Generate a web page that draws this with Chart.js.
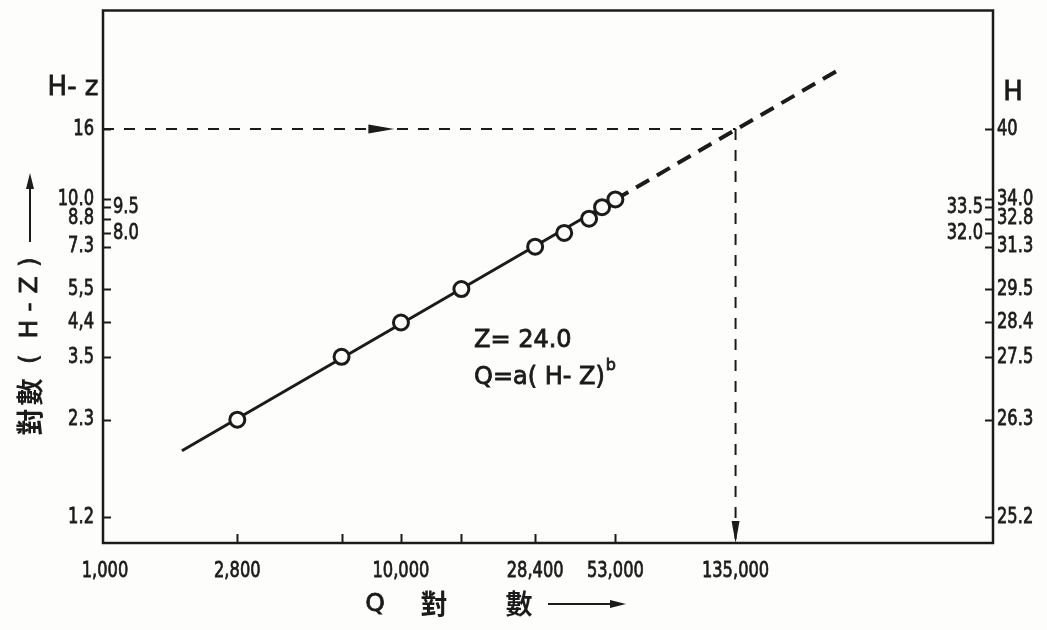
<!DOCTYPE html>
<html>
<head>
<meta charset="utf-8">
<script src="https://cdn.jsdelivr.net/npm/chart.js@4.4.1/dist/chart.umd.min.js"></script>
<style>
  html, body { margin: 0; padding: 0; background: #fdfdfc; }
  #wrap { width: 1047px; height: 630px; position: relative; }
</style>
</head>
<body>
<div id="wrap"><canvas id="rating"></canvas></div>
<script>
// observed points: discharge Q and stage above zero-flow level (H - Z)
const qValues  = [2800, 6300, 10000, 16000, 28400, 35600, 43200, 47800, 53000];
const hzValues = [2.3, 3.5, 4.4, 5.5, 7.3, 8.0, 8.8, 9.5, 10.0];

// fitted rating line (solid) and its extrapolation (dashed)
const fitQ  = [1820, 53000];
const fitHz = [1.87, 10.0];
const extQ  = [53000, 300000];
const extHz = [10.0, 23.7];

// read-off guide: H = 40 gives Q = 135,000
const guideQ  = 135000;
const guideHz = 16;
const guideArrowQ = 9500;

// axis ticks
const qTicks      = [1000, 2800, 10000, 28400, 53000, 135000];
const qTickLabels = ['1,000', '2,800', '10,000', '28,400', '53,000', '135,000'];
const qTickMarks  = [2800, 6300, 10000, 16000, 28400, 53000];

const hzTicks      = [1.2, 2.3, 3.5, 4.4, 5.5, 7.3, 8.8, 10.0, 16];
const hzTickLabels = ['1.2', '2.3', '3.5', '4,4', '5,5', '7.3', '8.8', '10.0', '16'];
const hTickLabels  = ['25.2', '26.3', '27.5', '28.4', '29.5', '31.3', '32.8', '34.0', '40'];
// these ticks carry their labels on the inner side of the frame
const hzInnerTicks  = [9.5, 8.0];
const hzInnerLabels = ['9.5', '8.0'];
const hInnerLabels  = ['33.5', '32.0'];

const Q_MIN = 985, Q_MAX = 1000000;
const HZ_MIN = 1.01, HZ_MAX = 35.3;

const INK = '#1b1b1b';
const TXT_FONT = '"DejaVu Sans", sans-serif';
const CJK_FONT = '"Noto Sans CJK TC", "Noto Sans CJK SC", sans-serif';
// the figure uses a narrow engineering face, so numbers are squeezed sideways
const NUM_SIZE = 22;
const NUM_SQUEEZE = 0.74;

const toXY = (xs, ys) => xs.map((v, i) => ({ x: v, y: ys[i] }));

function arrowHead(ctx, x, y, dx, dy, len, half) {
  // tip at (x,y), pointing along (dx,dy)
  ctx.beginPath();
  ctx.moveTo(x, y);
  ctx.lineTo(x - dx * len - dy * half, y - dy * len + dx * half);
  ctx.lineTo(x - dx * len + dy * half, y - dy * len - dx * half);
  ctx.closePath();
  ctx.fill();
}

// fill plus a hairline stroke, the scanned lettering is a bit heavier than the font
function inkText(ctx, text, x, y) {
  ctx.fillText(text, x, y);
  ctx.strokeText(text, x, y);
}

function narrowText(ctx, text, x, y, align) {
  ctx.save();
  ctx.translate(x, y);
  ctx.scale(NUM_SQUEEZE, 1);
  ctx.textAlign = align;
  inkText(ctx, text, 0, 0);
  ctx.restore();
}

const decor = {
  id: 'decor',
  afterDraw(chart) {
    const { ctx, chartArea: a, scales: { x, y, y2 } } = chart;
    ctx.save();
    ctx.strokeStyle = INK;
    ctx.fillStyle = INK;

    // frame
    ctx.lineWidth = 2.5;
    ctx.strokeRect(a.left, a.top, a.right - a.left, a.bottom - a.top);

    // inward tick marks
    ctx.lineWidth = 2;
    ctx.beginPath();
    hzTicks.concat(hzInnerTicks).forEach(v => {
      const py = Math.round(y.getPixelForValue(v)) + 0.5;
      ctx.moveTo(a.left, py); ctx.lineTo(a.left + 8, py);
      ctx.moveTo(a.right, py); ctx.lineTo(a.right - 8, py);
    });
    qTickMarks.forEach(v => {
      const px = Math.round(x.getPixelForValue(v)) + 0.5;
      ctx.moveTo(px, a.bottom); ctx.lineTo(px, a.bottom - 9);
    });
    ctx.stroke();

    // tick labels
    ctx.lineWidth = 0.8;
    ctx.font = `${NUM_SIZE}px ${TXT_FONT}`;
    ctx.textBaseline = 'middle';
    hzTicks.forEach((v, i) => {
      narrowText(ctx, hzTickLabels[i], a.left - 9, y.getPixelForValue(v), 'right');
      narrowText(ctx, hTickLabels[i], a.right + 4, y2.getPixelForValue(v), 'left');
    });
    hzInnerTicks.forEach((v, i) => {
      const py = y.getPixelForValue(v);
      narrowText(ctx, hzInnerLabels[i], a.left + 10, py, 'left');
      narrowText(ctx, hInnerLabels[i], a.right - 10, py, 'right');
    });
    qTicks.forEach((v, i) => {
      narrowText(ctx, qTickLabels[i], x.getPixelForValue(v), a.bottom + 28, 'center');
    });

    // arrows on the read-off guide
    const gy = y.getPixelForValue(guideHz);
    arrowHead(ctx, x.getPixelForValue(guideArrowQ), gy, 1, 0, 26, 4.5);
    arrowHead(ctx, x.getPixelForValue(guideQ), a.bottom, 0, 1, 22, 4);

    // axis end titles
    ctx.font = `26px ${TXT_FONT}`;
    ctx.textAlign = 'center';
    inkText(ctx, 'H- z', 73, 88);
    inkText(ctx, 'H', 1013, 93);

    // formula
    ctx.textAlign = 'left';
    ctx.font = `24px ${TXT_FONT}`;
    inkText(ctx, 'Z= 24.0', 474, 341);
    inkText(ctx, 'Q=a( H- Z)', 474, 378);
    const w = ctx.measureText('Q=a( H- Z)').width;
    ctx.font = `16px ${TXT_FONT}`;
    inkText(ctx, 'b', 474 + w + 1, 366);

    // y title, read bottom to top
    ctx.save();
    ctx.translate(30, 437);
    ctx.rotate(-Math.PI / 2);
    ctx.textAlign = 'center';
    ctx.font = `bold 27px ${CJK_FONT}`;
    ctx.fillText('對', 15, 0);
    ctx.fillText('數', 45, 0);
    ctx.font = `25px ${TXT_FONT}`;
    [['(', 78], ['H', 108], ['-', 130], ['Z', 152], [')', 175]].forEach(([t, d]) => inkText(ctx, t, d, 0));
    ctx.lineWidth = 2;
    ctx.beginPath(); ctx.moveTo(195, 0); ctx.lineTo(250, 0); ctx.stroke();
    arrowHead(ctx, 264, 0, 1, 0, 16, 4);
    ctx.restore();

    // x title
    ctx.textAlign = 'center';
    ctx.lineWidth = 0.8;
    ctx.font = `25px ${TXT_FONT}`;
    inkText(ctx, 'Q', 375, 604);
    ctx.font = `bold 27px ${CJK_FONT}`;
    ctx.fillText('對', 434, 604);
    ctx.fillText('數', 519, 604);
    ctx.lineWidth = 2;
    ctx.beginPath(); ctx.moveTo(548, 604); ctx.lineTo(612, 604); ctx.stroke();
    arrowHead(ctx, 626, 604, 1, 0, 16, 4);

    ctx.restore();
  }
};

function fixBox(size, horizontal) {
  return s => {
    if (horizontal) s.height = size; else s.width = size;
    s.paddingTop = 0; s.paddingBottom = 0; s.paddingLeft = 0; s.paddingRight = 0;
  };
}

const hiddenAxis = {
  grid: { display: false, drawTicks: false },
  border: { display: false },
  ticks: { display: false }
};

new Chart(document.getElementById('rating'), {
  type: 'scatter',
  data: {
    datasets: [
      {
        label: 'observed',
        data: toXY(qValues, hzValues),
        pointRadius: 7.5,
        pointBackgroundColor: '#fdfdfc',
        pointBorderColor: INK,
        pointBorderWidth: 3
      },
      {
        label: 'fit',
        data: toXY(fitQ, fitHz),
        showLine: true,
        borderColor: INK,
        borderWidth: 3,
        pointRadius: 0
      },
      {
        label: 'extrapolation',
        data: toXY(extQ, extHz),
        showLine: true,
        borderColor: INK,
        borderWidth: 4,
        borderDash: [15, 9],
        pointRadius: 0
      },
      {
        label: 'guide H',
        data: toXY([Q_MIN, guideQ], [guideHz, guideHz]),
        showLine: true,
        borderColor: INK,
        borderWidth: 2,
        borderDash: [11, 10],
        pointRadius: 0
      },
      {
        label: 'guide Q',
        data: toXY([guideQ, guideQ], [guideHz, HZ_MIN]),
        showLine: true,
        borderColor: INK,
        borderWidth: 2,
        borderDash: [11, 10],
        pointRadius: 0
      }
    ]
  },
  options: {
    responsive: true,
    maintainAspectRatio: false,
    animation: false,
    layout: { padding: { top: 8, left: 0, right: 0, bottom: 0 } },
    plugins: { legend: { display: false }, tooltip: { enabled: false } },
    scales: {
      x: {
        ...hiddenAxis,
        type: 'logarithmic',
        position: 'bottom',
        min: Q_MIN,
        max: Q_MAX,
        afterBuildTicks: s => { s.ticks = qTicks.map(v => ({ value: v })); },
        afterFit: fixBox(87, true)
      },
      y: {
        ...hiddenAxis,
        type: 'logarithmic',
        position: 'left',
        min: HZ_MIN,
        max: HZ_MAX,
        afterBuildTicks: s => { s.ticks = hzTicks.map(v => ({ value: v })); },
        afterFit: fixBox(103, false)
      },
      y2: {
        ...hiddenAxis,
        type: 'logarithmic',
        position: 'right',
        min: HZ_MIN,
        max: HZ_MAX,
        afterBuildTicks: s => { s.ticks = hzTicks.map(v => ({ value: v })); },
        afterFit: fixBox(54, false)
      }
    }
  },
  plugins: [decor]
});
</script>
</body>
</html>
